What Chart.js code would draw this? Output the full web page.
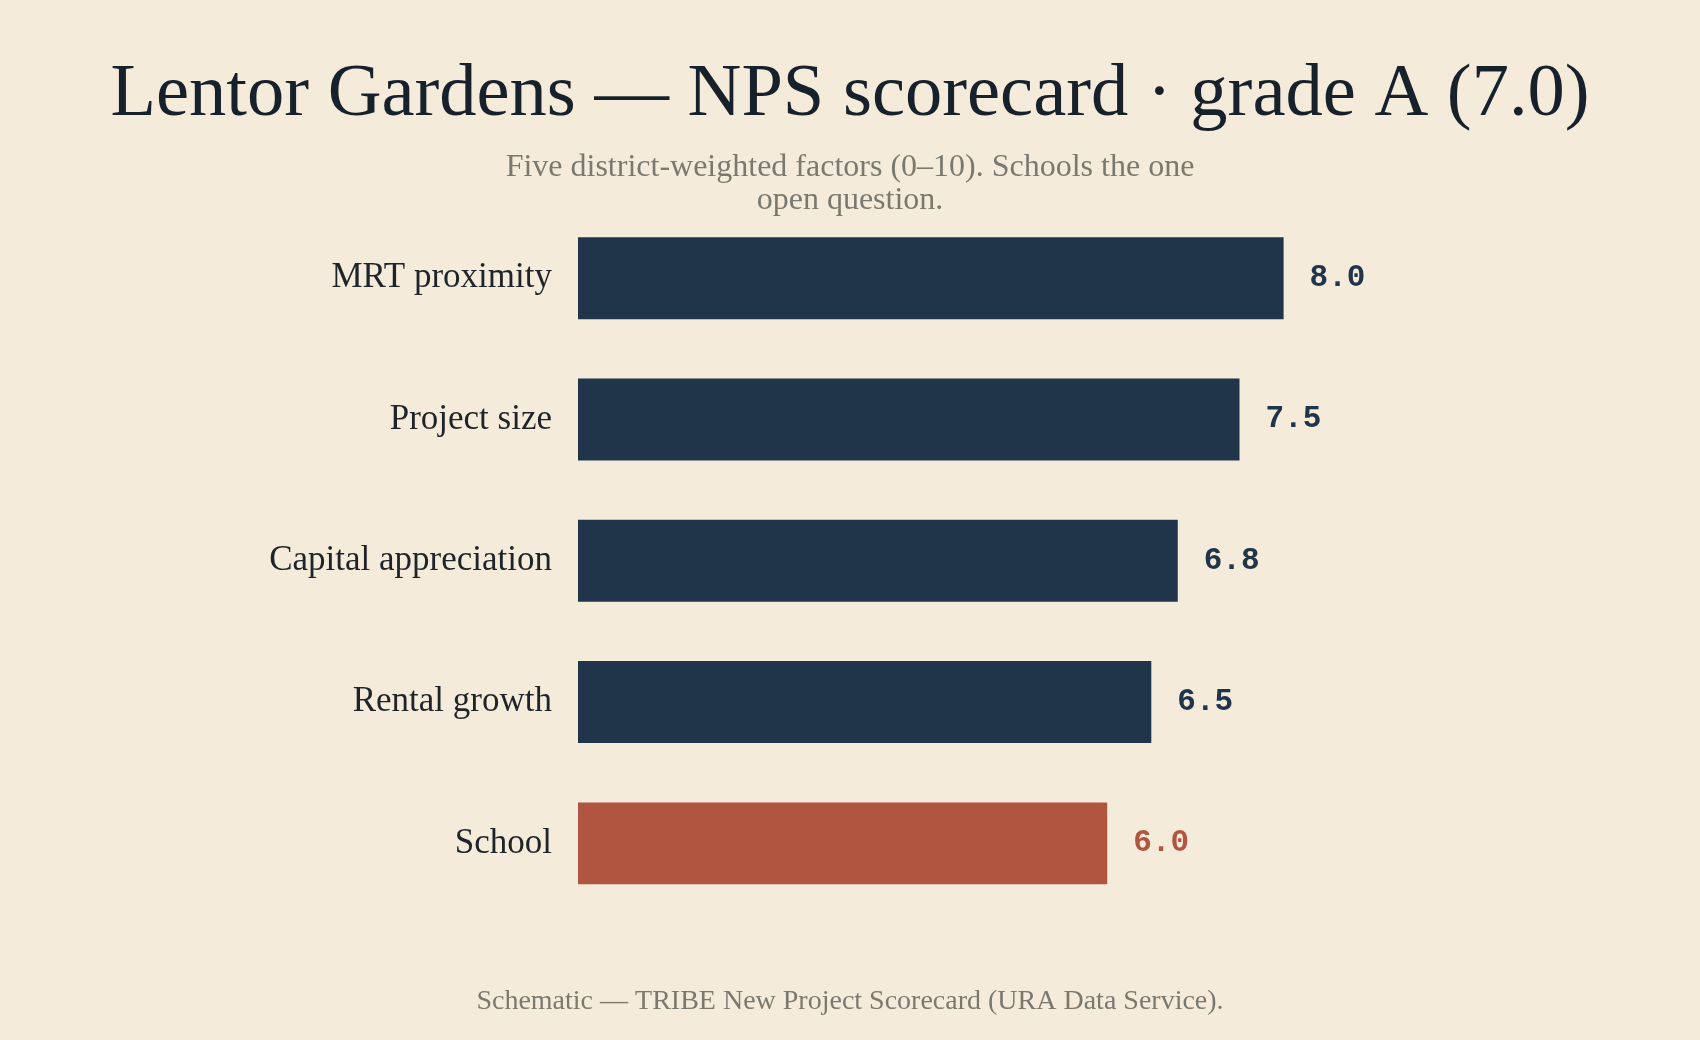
<!DOCTYPE html>
<html>
<head>
<meta charset="utf-8">
<script src="https://cdn.jsdelivr.net/npm/chart.js@4.4.1/dist/chart.umd.min.js"></script>
<style>
  html, body { margin: 0; padding: 0; background: #f5ebdb; }
  #wrap { width: 1700px; height: 1040px; }
</style>
</head>
<body>
<div id="wrap"><canvas id="grafico" width="1700" height="1040"></canvas></div>
<script>
const categorias = ["MRT proximity", "Project size", "Capital appreciation", "Rental growth", "School"];
const notas = [8.0, 7.5, 6.8, 6.5, 6.0];
const cores = ["#20354a", "#20354a", "#20354a", "#20354a", "#b0553f"];
const titulo = "Lentor Gardens — NPS scorecard · grade A (7.0)";
const subtitulo = ["Five district-weighted factors (0–10). Schools the one", "open question."];
const rodape = "Schematic — TRIBE New Project Scorecard (URA Data Service).";

const serif = "'Liberation Serif', 'Times New Roman', serif";

// valores ao lado das barras
const valoresPlugin = {
  id: "valores",
  afterDatasetsDraw(chart) {
    const ctx = chart.ctx;
    const meta = chart.getDatasetMeta(0);
    ctx.save();
    ctx.font = "bold 31px 'Liberation Mono', monospace";
    ctx.textAlign = "left";
    ctx.textBaseline = "middle";
    meta.data.forEach((bar, i) => {
      ctx.fillStyle = cores[i];
      ctx.fillText(notas[i].toFixed(1), bar.x + 26, bar.y);
    });
    ctx.restore();
  },
};

// rodape
const rodapePlugin = {
  id: "rodape",
  afterDraw(chart) {
    const ctx = chart.ctx;
    ctx.save();
    ctx.font = "28px " + serif;
    ctx.fillStyle = "#7a7970";
    ctx.textAlign = "center";
    ctx.textBaseline = "alphabetic";
    ctx.fillText(rodape, chart.width / 2, 1009);
    ctx.restore();
  },
};

const myGrafico = new Chart(document.querySelector("#grafico"), {
  type: "bar",
  data: {
    labels: categorias,
    datasets: [
      {
        data: notas,
        backgroundColor: cores,
        borderWidth: 0,
        barPercentage: 0.58,
        categoryPercentage: 1,
      },
    ],
  },
  options: {
    indexAxis: "y",
    responsive: false,
    animation: false,
    layout: { padding: { top: 0, right: 0, bottom: 126, left: 0 } },
    plugins: {
      legend: { display: false },
      tooltip: { enabled: false },
      title: {
        display: true,
        text: titulo,
        color: "#17212b",
        font: { family: serif, size: 74.5, weight: "normal", lineHeight: 1.2 },
        padding: { top: 51, bottom: 0 },
      },
      subtitle: {
        display: true,
        text: subtitulo,
        color: "#7a7970",
        font: { family: serif, size: 32, lineHeight: 1.05 },
        padding: { top: 10, bottom: -10 },
      },
    },
    scales: {
      x: { min: 0, max: 10, display: false },
      y: {
        grid: { display: false, drawTicks: false },
        border: { display: false },
        ticks: {
          color: "#1e2428",
          font: { family: serif, size: 35 },
          padding: 26,
        },
        afterFit(scale) {
          scale.width = 578;
        },
      },
      // espaço vazio à direita
      yDireita: {
        axis: "y",
        type: "linear",
        position: "right",
        grid: { display: false, drawTicks: false },
        border: { display: false },
        ticks: { display: false },
        afterFit(scale) {
          scale.width = 240;
        },
      },
    },
  },
  plugins: [valoresPlugin, rodapePlugin],
});
</script>
</body>
</html>
